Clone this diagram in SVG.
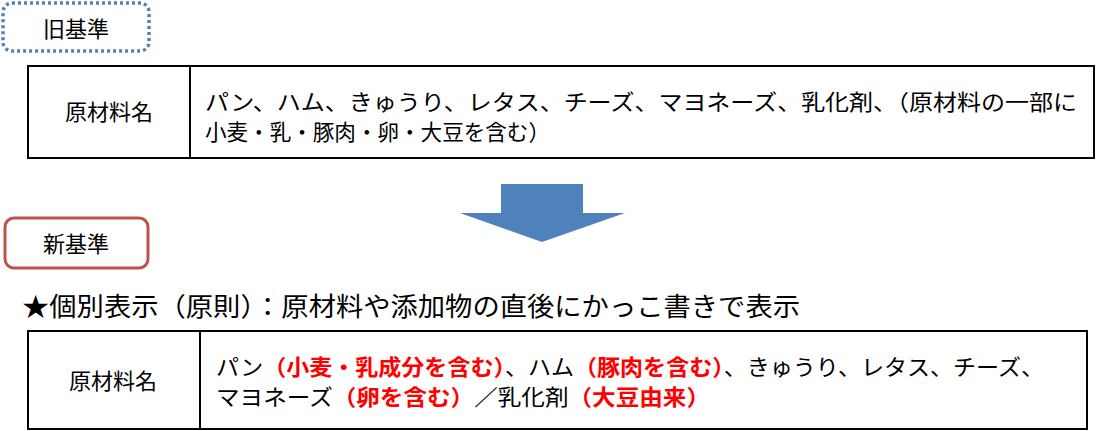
<svg xmlns="http://www.w3.org/2000/svg" width="1099" height="431" viewBox="0 0 1099 431">
<style>
text{font-family:"Noto Sans CJK JP","Noto Sans",sans-serif;fill:#000}
.t{font-size:22px}
.r{fill:#ff0000;font-weight:bold}
.cell{fill:#fff;stroke:#000;stroke-width:2}
</style>
<rect width="1099" height="431" fill="#fff"/>
<g id="old-badge">
<rect x="3" y="3" width="146" height="48" rx="9" fill="#fff" stroke="#4f81bd" stroke-width="3.5" stroke-dasharray="3 3"/>
<text class="t" x="76" y="37" text-anchor="middle">旧基準</text>
</g>
<g id="old-table">
<rect class="cell" x="28" y="66" width="1066" height="92"/>
<line x1="190" y1="66" x2="190" y2="158" stroke="#000" stroke-width="2"/>
<text class="t" x="109" y="120" text-anchor="middle">原材料名</text>
<text class="t" x="205" y="110" textLength="872" lengthAdjust="spacingAndGlyphs">パン、ハム、きゅうり、レタス、チーズ、マヨネーズ、乳化剤、（原材料の一部に</text>
<text class="t" x="205" y="140" textLength="345" lengthAdjust="spacingAndGlyphs">小麦・乳・豚肉・卵・大豆を含む）</text>
</g>
<g id="arrow">
<path d="M501,184 H583 V213 H625 L542,242 L460,213 H501 Z" fill="#4f81bd"/>
</g>
<g id="new-badge">
<rect x="5" y="218" width="143" height="50" rx="9" fill="#fff" stroke="#c0504d" stroke-width="3"/>
<text class="t" x="76" y="252" text-anchor="middle">新基準</text>
</g>
<text x="22" y="316" font-size="26" textLength="778" lengthAdjust="spacingAndGlyphs">★個別表示（原則）：原材料や添加物の直後にかっこ書きで表示</text>
<g id="new-table">
<rect class="cell" x="28" y="331" width="1059" height="98"/>
<line x1="200" y1="331" x2="200" y2="429" stroke="#000" stroke-width="2"/>
<text class="t" x="113" y="389" text-anchor="middle">原材料名</text>
<text class="t" x="216" y="375" textLength="828" lengthAdjust="spacingAndGlyphs">パン<tspan class="r">（小麦・乳成分を含む）</tspan>、ハム<tspan class="r">（豚肉を含む）</tspan>、きゅうり、レタス、チーズ、</text>
<text class="t" x="216" y="405" textLength="494" lengthAdjust="spacingAndGlyphs">マヨネーズ<tspan class="r">（卵を含む）</tspan>／乳化剤<tspan class="r">（大豆由来）</tspan></text>
</g>
</svg>
